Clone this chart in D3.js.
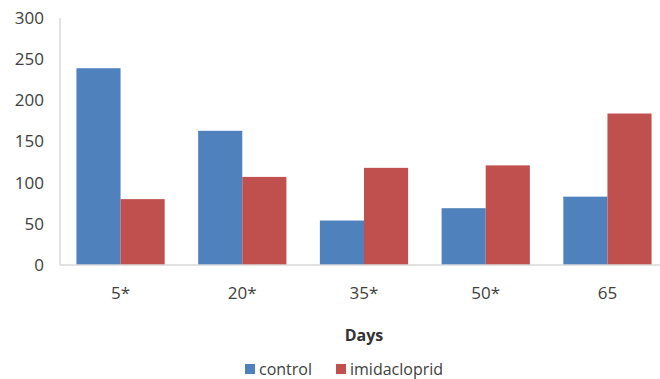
<!DOCTYPE html>
<html><head><meta charset="utf-8">
<script src="https://cdn.jsdelivr.net/npm/d3@7"></script>
<style>body{margin:0;background:#fff;} svg{display:block;}</style>
</head><body>
<svg id="c" width="660" height="379"></svg>
<script>
const categories = ["5*", "20*", "35*", "50*", "65"];
const seriesNames = ["control", "imidacloprid"];
const controlValues = [239, 163, 54, 69, 83];
const imidaclopridValues = [80, 107, 118, 121, 184];
const yTicks = [0, 50, 100, 150, 200, 250, 300];
const colors = ["#4f81bd", "#c0504d"];

(function () {
const svg = d3.select("#c");
const mLeft = 60, mRight = 668, mTop = 18, mBottom = 265;
const x = d3.scaleBand().domain(categories).range([mLeft, mRight]).paddingInner(0.275).paddingOuter(0.135);
const xs = d3.scaleBand().domain(seriesNames).range([0, x.bandwidth()]);
const y = d3.scaleLinear().domain([0, 300]).range([mBottom, mTop]);
const font = "'Open Sans', sans-serif";

svg.append("line").attr("x1", mLeft).attr("x2", mLeft).attr("y1", mTop).attr("y2", mBottom)
  .attr("stroke", "#d9d9d9").attr("stroke-width", 1.5);

const data = categories.map((c, i) => ({c, vals: [controlValues[i], imidaclopridValues[i]]}));
const g = svg.append("g");
data.forEach(d => {
  d.vals.forEach((v, j) => {
    g.append("rect")
      .attr("x", x(d.c) + xs(seriesNames[j]))
      .attr("width", xs.bandwidth())
      .attr("y", y(v))
      .attr("height", y(0) - y(v))
      .attr("fill", colors[j]);
  });
});

svg.append("line").attr("x1", mLeft).attr("x2", 660).attr("y1", mBottom).attr("y2", mBottom)
  .attr("stroke", "#d9d9d9").attr("stroke-width", 1.5);

const yAxis = d3.axisLeft(y).tickValues(yTicks).tickSize(0).tickPadding(16);
const ya = svg.append("g").attr("transform", `translate(${mLeft},0)`).call(yAxis);
ya.select(".domain").remove();
ya.selectAll("text").attr("font-family", font).attr("font-size", 17).attr("fill", "#404040");

const xAxis = d3.axisBottom(x).tickSize(0).tickPadding(22);
const xa = svg.append("g").attr("transform", `translate(0,${mBottom})`).call(xAxis);
xa.select(".domain").remove();
xa.selectAll("text").attr("font-family", font).attr("font-size", 17).attr("fill", "#404040");

svg.append("text").attr("x", (mLeft + mRight) / 2).attr("y", 341).attr("text-anchor", "middle")
  .attr("font-family", font).attr("font-size", 16).attr("font-weight", "bold").attr("fill", "#333")
  .text("Days");

const legendItems = [{name: seriesNames[0], x: 245}, {name: seriesNames[1], x: 336}];
legendItems.forEach((it, i) => {
  svg.append("rect").attr("x", it.x).attr("y", 364).attr("width", 10).attr("height", 10).attr("fill", colors[i]);
  svg.append("text").attr("x", it.x + 14).attr("y", 375).attr("font-family", font).attr("font-size", 16)
    .attr("fill", "#404040").text(it.name);
});
})();
</script>
</body></html>
